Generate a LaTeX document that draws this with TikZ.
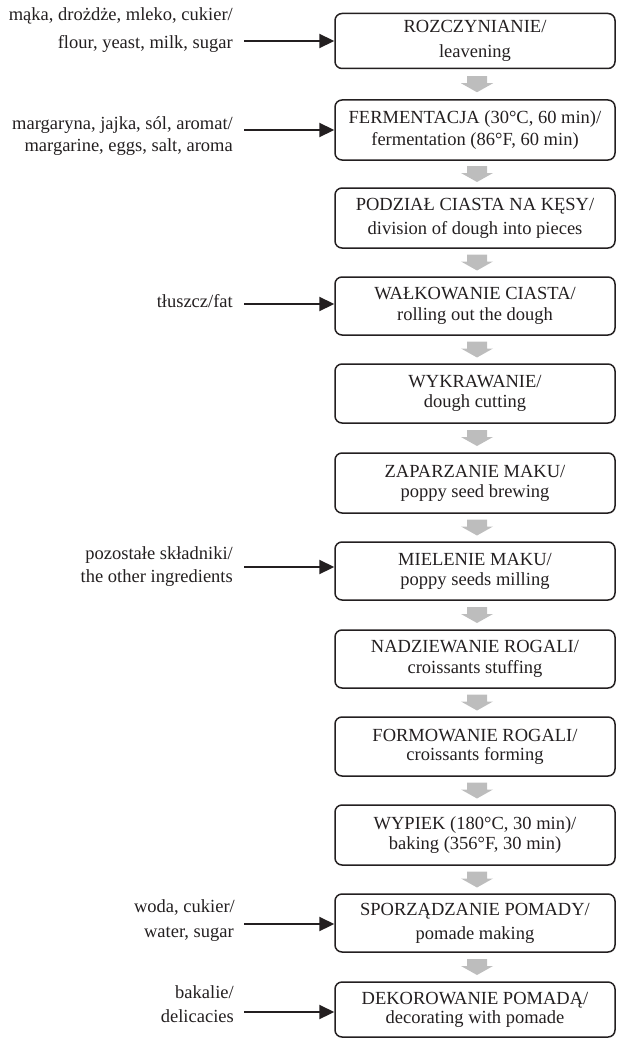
\documentclass[tikz,border=0pt]{standalone}
\usepackage{fontspec}
\setmainfont{Liberation Serif}
\usetikzlibrary{arrows.meta,calc}
\definecolor{ink}{HTML}{231F20}
\definecolor{arrowgray}{HTML}{BDBDBD}
\tikzset{
  stepbox/.style={draw=ink, line width=1.5pt, rounded corners=7pt, minimum width=280pt,
    inner sep=0pt, align=center, text=ink, font=\fontsize{18.5pt}{21pt}\selectfont},
  lbl/.style={anchor=base east, inner sep=0pt, text=ink, font=\fontsize{18.5pt}{21pt}\selectfont},
  feed/.style={draw=ink, line width=2.2pt, -{Triangle[length=15pt,width=14pt]}},
  flowarrow/.style={fill=arrowgray, draw=none},
}
\begin{document}
\begin{tikzpicture}[x=1pt,y=-1pt]
\useasboundingbox (0,0) rectangle (616,1038);

% process boxes
\node[stepbox, minimum height=55pt, font=\fontsize{18.5pt}{25pt}\selectfont] (b1) at (475,41) {ROZCZYNIANIE/\\leavening};
\node[stepbox, minimum height=60pt, font=\fontsize{18.5pt}{22pt}\selectfont] (b2) at (475,130) {FERMENTACJA (30°C, 60 min)/\\fermentation (86°F, 60 min)};
\node[stepbox, minimum height=60pt, font=\fontsize{18.5pt}{24pt}\selectfont] (b3) at (475,218) {PODZIAŁ CIASTA NA KĘSY/\\division of dough into pieces};
\node[stepbox, minimum height=58pt] (b4) at (475,306) {WAŁKOWANIE CIASTA/\\rolling out the dough};
\node[stepbox, minimum height=59pt, font=\fontsize{18.5pt}{20pt}\selectfont] (b5) at (475,393.5) {WYKRAWANIE/\\dough cutting};
\node[stepbox, minimum height=60pt, font=\fontsize{18.5pt}{20pt}\selectfont] (b6) at (475,483) {ZAPARZANIE MAKU/\\poppy seed brewing};
\node[stepbox, minimum height=58pt, font=\fontsize{18.5pt}{20pt}\selectfont] (b7) at (475,571) {MIELENIE MAKU/\\poppy seeds milling};
\node[stepbox, minimum height=58pt] (b8) at (475,659) {NADZIEWANIE ROGALI/\\croissants stuffing};
\node[stepbox, minimum height=59pt, font=\fontsize{18.5pt}{19pt}\selectfont] (b9) at (475,746.5) {FORMOWANIE ROGALI/\\croissants forming};
\node[stepbox, minimum height=60pt, font=\fontsize{18.5pt}{20pt}\selectfont] (b10) at (475,835) {WYPIEK (180°C, 30 min)/\\baking (356°F, 30 min)};
\node[stepbox, minimum height=58pt, font=\fontsize{18.5pt}{24pt}\selectfont] (b11) at (475,923) {SPORZĄDZANIE POMADY/\\pomade making};
\node[stepbox, minimum height=55pt, font=\fontsize{18.5pt}{19pt}\selectfont] (b12) at (475,1009.5) {DEKOROWANIE POMADĄ/\\decorating with pomade};

% grey flow arrows
\foreach \a/\b in {b1/b2,b2/b3,b3/b4,b4/b5,b5/b6,b6/b7,b7/b8,b8/b9,b9/b10,b10/b11,b11/b12}{
  \fill[flowarrow] ($(\a.south)!0.5!(\b.north)+(2,0)$) ++(-10,-8) -- ++(20,0) -- ++(0,7)
    -- ++(6,0) -- ++(-16,9) -- ++(-16,-9) -- ++(6,0) -- cycle;
}

% input labels
\node[lbl] (l1a) at (233,21) {mąka, drożdże, mleko, cukier/};
\node[lbl] (l1b) at (233,49) {flour, yeast, milk, sugar};
\node[lbl] (l2a) at (233,129) {margaryna, jajka, sól, aromat/};
\node[lbl] (l2b) at (233,151) {margarine, eggs, salt, aroma};
\node[lbl] (l4a) at (233,307) {tłuszcz/fat};
\node[lbl] (l7a) at (233,559) {pozostałe składniki/};
\node[lbl] (l7b) at (233,582) {the other ingredients};
\node[lbl] (l11a) at (235,912) {woda, cukier/};
\node[lbl] (l11b) at (234,937) {water, sugar};
\node[lbl] (l12a) at (234,998) {bakalie/};
\node[lbl] (l12b) at (234,1022) {delicacies};

% input arrows
\coordinate (f1) at (244,41);
\coordinate (f2) at (244,130);
\coordinate (f4) at (244,304);
\coordinate (f7) at (244,567);
\coordinate (f11) at (244,924);
\coordinate (f12) at (244,1012);
\draw[feed] (f1) -- (f1 -| b1.west);
\draw[feed] (f2) -- (f2 -| b2.west);
\draw[feed] (f4) -- (f4 -| b4.west);
\draw[feed] (f7) -- (f7 -| b7.west);
\draw[feed] (f11) -- (f11 -| b11.west);
\draw[feed] (f12) -- (f12 -| b12.west);
\end{tikzpicture}
\end{document}
